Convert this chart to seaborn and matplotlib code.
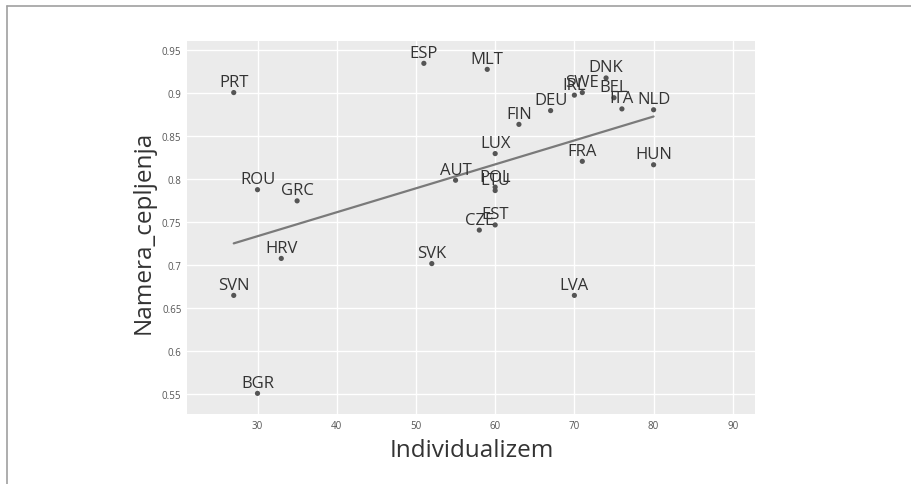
import matplotlib
matplotlib.use("Agg")
import matplotlib.pyplot as plt
from matplotlib.lines import Line2D
import seaborn as sns
import pandas as pd
import numpy as np

countries = ["PRT", "ESP", "MLT", "DEU", "IRL", "SWE", "DNK", "BEL", "ITA", "NLD",
             "FIN", "LUX", "AUT", "POL", "LTU", "EST", "CZE", "FRA", "HUN", "ROU",
             "GRC", "HRV", "SVK", "SVN", "LVA", "BGR"]
individualizem = [27, 51, 59, 67, 70, 71, 74, 75, 76, 80,
                  63, 60, 55, 60, 60, 60, 58, 71, 80, 30,
                  35, 33, 52, 27, 70, 30]
namera_cepljenja = [0.901, 0.935, 0.928, 0.880, 0.898, 0.901, 0.918, 0.895, 0.882, 0.881,
                    0.864, 0.830, 0.799, 0.791, 0.787, 0.747, 0.741, 0.821, 0.817, 0.788,
                    0.775, 0.708, 0.702, 0.665, 0.665, 0.551]
x_ticks = [30, 40, 50, 60, 70, 80, 90]
y_ticks = [0.55, 0.6, 0.65, 0.7, 0.75, 0.8, 0.85, 0.9, 0.95]
y_tick_labels = ["0.55", "0.6", "0.65", "0.7", "0.75", "0.8", "0.85", "0.9", "0.95"]

df = pd.DataFrame({"Drzava": countries, "Individualizem": individualizem,
                   "Namera_cepljenja": namera_cepljenja})

sns.set_style("darkgrid", {"axes.facecolor": "#ebebeb", "grid.color": "white",
                           "axes.edgecolor": "none"})
plt.rcParams["font.family"] = ["Open Sans", "DejaVu Sans"]

fig = plt.figure(figsize=(9.11, 4.85), dpi=100)
fig.patch.set_facecolor("white")
ax = fig.add_axes([187 / 911, 1 - 415 / 485, (755 - 187) / 911, (415 - 42) / 485])

sns.regplot(data=df, x="Individualizem", y="Namera_cepljenja", scatter=False, ci=None,
            ax=ax, line_kws={"color": "#7a7a7a", "linewidth": 1.6})
sns.scatterplot(data=df, x="Individualizem", y="Namera_cepljenja", ax=ax,
                color="#555555", s=14, edgecolor="none", zorder=3)

for c, xv, yv in zip(countries, individualizem, namera_cepljenja):
    ax.annotate(c, (xv, yv), xytext=(0, 6.5), textcoords="offset pixels",
                ha="center", va="baseline", fontsize=12, color="#333333", zorder=4)

ax.set_xlim(21.1, 92.8)
ax.set_ylim(0.527, 0.961)
ax.set_xticks(x_ticks)
ax.set_xticklabels([str(t) for t in x_ticks])
ax.set_yticks(y_ticks)
ax.set_yticklabels(y_tick_labels)
ax.tick_params(axis="both", length=0, labelsize=7, colors="#555555", pad=4)
ax.grid(True, color="white", linewidth=1.0)
ax.set_xlabel("")
ax.set_ylabel("")
for s in ax.spines.values():
    s.set_visible(False)

fig.text(472 / 911, 1 - 451 / 485, "Individualizem", ha="center", va="center",
         fontsize=17.5, color="#333333")
fig.text(143.5 / 911, 1 - 232 / 485, "Namera_cepljenja", ha="center", va="center",
         rotation=90, fontsize=17.5, color="#333333")

fig.add_artist(Line2D([7 / 911, 7 / 911], [0, 1 - 7 / 485], transform=fig.transFigure,
                      color="#a0a0a0", linewidth=1.2))
fig.add_artist(Line2D([7 / 911, 1], [1 - 7 / 485, 1 - 7 / 485], transform=fig.transFigure,
                      color="#a0a0a0", linewidth=1.2))

fig.savefig("out.png", dpi=100, facecolor="white")
